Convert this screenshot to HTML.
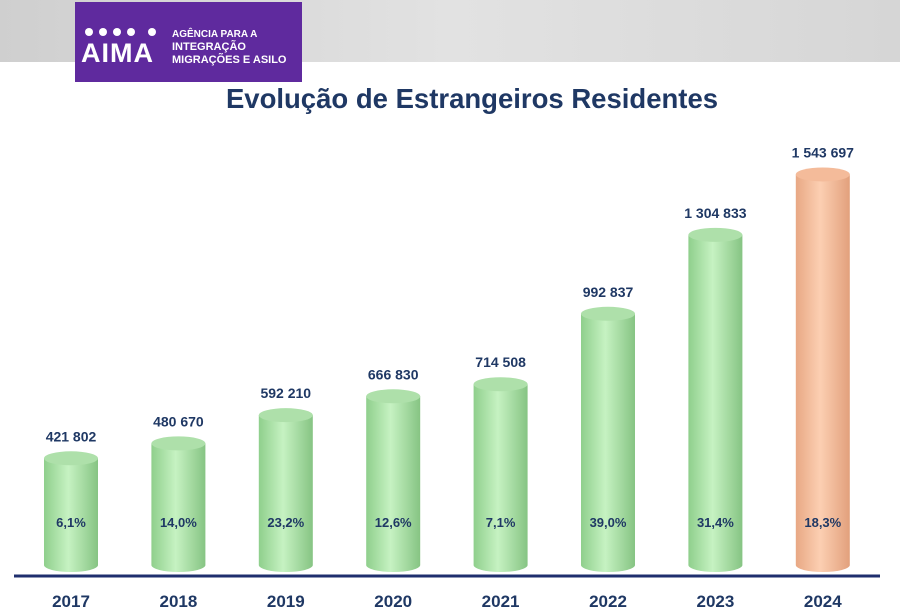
<!DOCTYPE html>
<html><head><meta charset="utf-8">
<style>
html,body{margin:0;padding:0;width:900px;height:611px;overflow:hidden;background:#fff;font-family:"Liberation Sans",sans-serif;}
</style></head>
<body>
<svg width="900" height="611" viewBox="0 0 900 611" xmlns="http://www.w3.org/2000/svg">
<defs>
<linearGradient id="bg" x1="0" y1="0" x2="1" y2="0">
<stop offset="0" stop-color="#cfcfcf"/><stop offset="0.5" stop-color="#e2e2e2"/><stop offset="1" stop-color="#d6d6d6"/>
</linearGradient>
<linearGradient id="gG" x1="0" y1="0" x2="1" y2="0">
<stop offset="0" stop-color="#8fcf8c"/><stop offset="0.45" stop-color="#c6f2c2"/><stop offset="1" stop-color="#86c483"/>
</linearGradient>
<linearGradient id="gO" x1="0" y1="0" x2="1" y2="0">
<stop offset="0" stop-color="#e8a884"/><stop offset="0.45" stop-color="#fccfb2"/><stop offset="1" stop-color="#e2a07c"/>
</linearGradient>
</defs>
<rect x="0" y="0" width="900" height="62" fill="url(#bg)"/>
<g>
<rect x="75" y="2" width="227" height="80" fill="#5f2a9e"/>
<g fill="#fff">
<circle cx="89" cy="32" r="4"/><circle cx="103" cy="32" r="4"/><circle cx="117" cy="32" r="4"/><circle cx="131" cy="32" r="4"/><circle cx="152" cy="32" r="4"/>
</g>
<text x="81" y="62" font-size="27" font-weight="bold" fill="#fff" letter-spacing="1">AIMA</text>
<text x="172" y="37" font-size="10" font-weight="bold" fill="#fff">AGÊNCIA PARA A</text>
<text x="172" y="50" font-size="11" font-weight="bold" fill="#fff">INTEGRAÇÃO</text>
<text x="172" y="63" font-size="11" font-weight="bold" fill="#fff">MIGRAÇÕES E ASILO</text>
</g>
<text x="472" y="108" text-anchor="middle" font-size="27.5" font-weight="bold" fill="#1f3864">Evolução de Estrangeiros Residentes</text>
<g id="bars"></g>
<line x1="14" y1="576" x2="880" y2="576" stroke="#1f2f6e" stroke-width="3"/>
<g id="xlabels"></g>
</svg>
<script>
const years = ["2017","2018","2019","2020","2021","2022","2023","2024"];
const values = [421802, 480670, 592210, 666830, 714508, 992837, 1304833, 1543697];
const valueLabels = ["421 802","480 670","592 210","666 830","714 508","992 837","1 304 833","1 543 697"];
const growth = ["6,1%","14,0%","23,2%","12,6%","7,1%","39,0%","31,4%","18,3%"];

const NS = "http://www.w3.org/2000/svg";
const base = 565, k = 0.000253;
function yScale(v){ return base - v * k; }
function xScale(i){ return 71 + i * 107.4; }
const w = 54, ry = 7;
const bars = document.getElementById('bars');
const xl = document.getElementById('xlabels');
function mk(tag, attrs){ const e = document.createElementNS(NS, tag); for (const a in attrs) e.setAttribute(a, attrs[a]); return e; }
years.forEach((yr, i) => {
  const cx = xScale(i), top = yScale(values[i]);
  const last = i === years.length - 1;
  const fill = last ? 'url(#gO)' : 'url(#gG)';
  const g = mk('g', {});
  
  
  g.appendChild(mk('path', {d: `M${cx-w/2},${top} L${cx-w/2},${base} A${w/2},${ry} 0 0 0 ${cx+w/2},${base} L${cx+w/2},${top} Z`, fill: fill}));
  g.appendChild(mk('ellipse', {cx: cx, cy: top, rx: w/2, ry: ry, fill: last ? '#f4bb9a' : '#aee0aa'}));
  bars.appendChild(g);
  const vl = mk('text', {x: cx, y: top - 17, 'text-anchor': 'middle', 'font-size': 14, 'font-weight': 'bold', fill: '#1f3864'});
  vl.textContent = valueLabels[i];
  
  
  bars.appendChild(vl);
  const pl = mk('text', {x: cx, y: 527, 'text-anchor': 'middle', 'font-size': 13, 'font-weight': 'bold', fill: '#1f3864'});
  pl.textContent = growth[i];
  
  
  bars.appendChild(pl);
  const t = mk('text', {x: cx, y: 607, 'text-anchor': 'middle', 'font-size': 17, 'font-weight': 'bold', fill: '#1f3864'});
  t.textContent = yr;
  
  
  xl.appendChild(t);
});
</script>
</body></html>
